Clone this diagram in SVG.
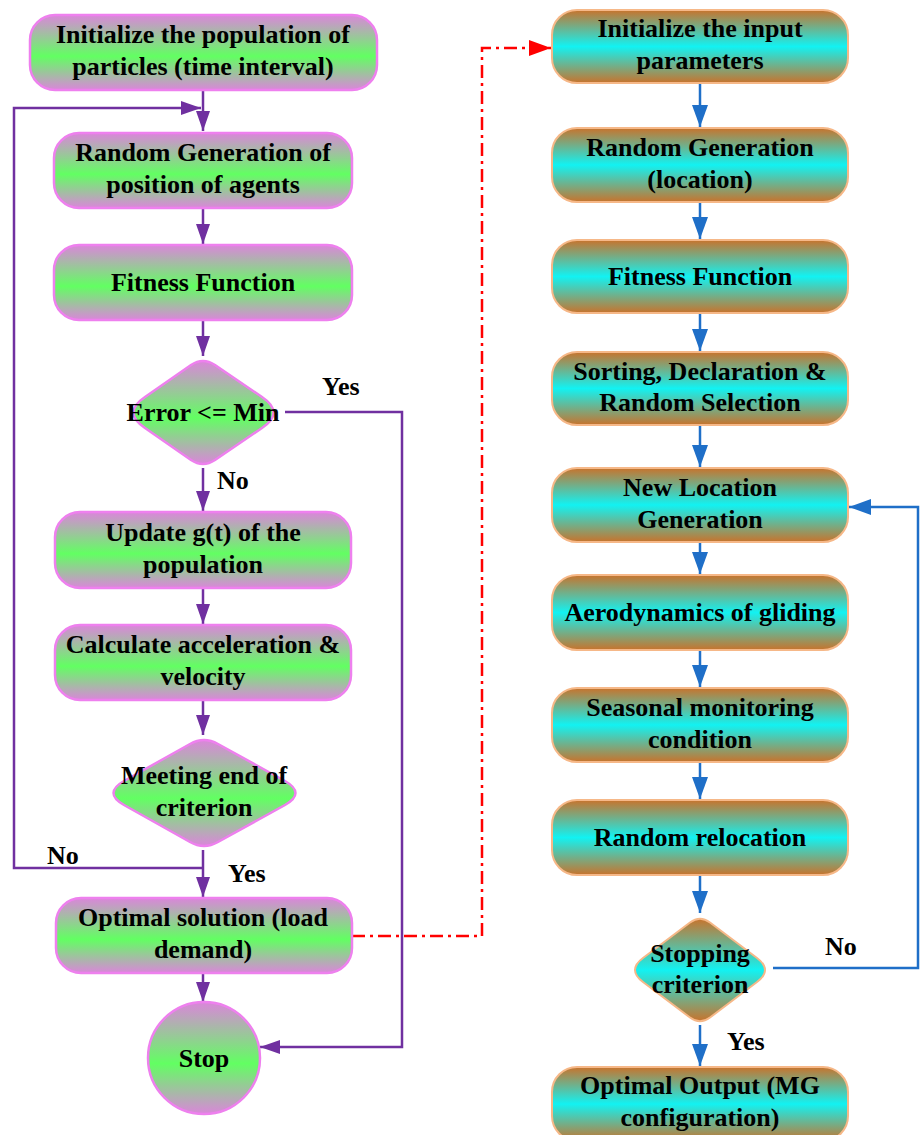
<svg xmlns="http://www.w3.org/2000/svg" width="920" height="1135" viewBox="0 0 920 1135">
<defs>
<linearGradient id="gL" x1="0" y1="0" x2="0" y2="1">
<stop offset="0" stop-color="#DA86DA"/>
<stop offset="0.55" stop-color="#62FF62"/>
<stop offset="1" stop-color="#DA86DA"/>
</linearGradient>
<linearGradient id="gR" x1="0" y1="0" x2="0" y2="1">
<stop offset="0" stop-color="#C8732C"/>
<stop offset="0.5" stop-color="#12F2F2"/>
<stop offset="1" stop-color="#C8732C"/>
</linearGradient>
<marker id="aP" markerUnits="userSpaceOnUse" markerWidth="20" markerHeight="14" refX="20" refY="7" orient="auto">
<path d="M0,0 L20,7 L0,14 Z" fill="#7030A0"/>
</marker>
<marker id="aB" markerUnits="userSpaceOnUse" markerWidth="22" markerHeight="16" refX="22" refY="8" orient="auto">
<path d="M0,0 L22,8 L0,16 Z" fill="#1F6FC8"/>
</marker>
<marker id="aR" markerUnits="userSpaceOnUse" markerWidth="22" markerHeight="16" refX="22" refY="8" orient="auto">
<path d="M0,0 L22,8 L0,16 Z" fill="#FF0000"/>
</marker>
</defs>
<style>
.l{fill:url(#gL);stroke:#EE80EE;stroke-width:2.5}
.r{fill:url(#gR);stroke:#F6B888;stroke-width:2}
text{font-family:"Liberation Serif","Times New Roman",serif;font-weight:bold;font-size:26px;fill:#000;text-anchor:middle}
.lab{text-anchor:start}
.cp{fill:none;stroke:#7030A0;stroke-width:2.5}
.cb{fill:none;stroke:#1F6FC8;stroke-width:2.5}
.cr{fill:none;stroke:#FF0000;stroke-width:2.5;stroke-dasharray:13 5 3 5}
</style>
<rect width="920" height="1135" fill="#fff"/>
<g id="connectors">
<path class="cp" d="M203,90 V131" marker-end="url(#aP)"/>
<path class="cp" d="M203,868 H14 V108 H201" marker-end="url(#aP)"/>
<path class="cp" d="M203,208 V244" marker-end="url(#aP)"/>
<path class="cp" d="M203,320 V356" marker-end="url(#aP)"/>
<path class="cp" d="M203,468 V511" marker-end="url(#aP)"/>
<path class="cp" d="M203,588 V624" marker-end="url(#aP)"/>
<path class="cp" d="M203,700 V735" marker-end="url(#aP)"/>
<path class="cp" d="M203,850 V897" marker-end="url(#aP)"/>
<path class="cp" d="M203,973 V1002" marker-end="url(#aP)"/>
<path class="cp" d="M285,412 H402 V1047 H260" marker-end="url(#aP)"/>
<path class="cr" d="M352,936 H482 V48 H551" marker-end="url(#aR)"/>
<path class="cb" d="M700,83 V127" marker-end="url(#aB)"/>
<path class="cb" d="M700,202 V239" marker-end="url(#aB)"/>
<path class="cb" d="M700,313 V351" marker-end="url(#aB)"/>
<path class="cb" d="M700,425 V467" marker-end="url(#aB)"/>
<path class="cb" d="M700,542 V574" marker-end="url(#aB)"/>
<path class="cb" d="M700,650 V687" marker-end="url(#aB)"/>
<path class="cb" d="M700,762 V799" marker-end="url(#aB)"/>
<path class="cb" d="M700,875 V913" marker-end="url(#aB)"/>
<path class="cb" d="M700,1025 V1066" marker-end="url(#aB)"/>
<path class="cb" d="M773,968 H918 V507 H849" marker-end="url(#aB)"/>
</g>
<g id="labels">
<text class="lab" x="322" y="395">Yes</text>
<text class="lab" x="217" y="489">No</text>
<text class="lab" x="47" y="864">No</text>
<text class="lab" x="228" y="882">Yes</text>
<text class="lab" x="825" y="955">No</text>
<text class="lab" x="727" y="1050">Yes</text>
</g>
<g id="n_init_pop">
<rect class="l" x="30" y="15" width="347" height="75" rx="25"/>
<text x="203" y="43">Initialize the population of</text>
<text x="203" y="75">particles (time interval)</text>
</g>
<g id="n_rand_gen">
<rect class="l" x="54" y="133" width="298" height="75" rx="25"/>
<text x="203" y="161">Random Generation of</text>
<text x="203" y="193">position of agents</text>
</g>
<g id="n_fitness_l">
<rect class="l" x="54" y="245" width="298" height="75" rx="25"/>
<text x="203" y="291">Fitness Function</text>
</g>
<g id="n_error">
<path class="l" d="M191,365 Q203,357 215,365 L262,397 Q285,412.5 262,428 L215,460 Q203,468 191,460 L145,428 Q122,412.5 145,397 Z"/>
<text x="203" y="421">Error &lt;= Min</text>
</g>
<g id="n_update">
<rect class="l" x="55" y="512" width="296" height="76" rx="25"/>
<text x="203" y="541">Update g(t) of the</text>
<text x="203" y="573">population</text>
</g>
<g id="n_calc">
<rect class="l" x="55" y="625" width="296" height="75" rx="25"/>
<text x="203" y="653">Calculate acceleration &amp;</text>
<text x="203" y="685">velocity</text>
</g>
<g id="n_meeting">
<path class="l" d="M190,744 Q204,736 218,744 L285,781 Q306,793 285,805 L218,842 Q204,850 190,842 L124,805 Q103,793 124,781 Z"/>
<text x="204" y="784">Meeting end of</text>
<text x="204" y="816">criterion</text>
</g>
<g id="n_optimal">
<rect class="l" x="56" y="898" width="296" height="75" rx="25"/>
<text x="203" y="926">Optimal solution (load</text>
<text x="203" y="958">demand)</text>
</g>
<g id="n_stop">
<circle class="l" cx="204" cy="1058" r="56"/>
<text x="204" y="1067">Stop</text>
</g>
<g id="n_init_input">
<rect class="r" x="552" y="10" width="296" height="73" rx="25"/>
<text x="700" y="37">Initialize the input</text>
<text x="700" y="69">parameters</text>
</g>
<g id="n_rand_loc">
<rect class="r" x="552" y="128" width="296" height="74" rx="25"/>
<text x="700" y="156">Random Generation</text>
<text x="700" y="188">(location)</text>
</g>
<g id="n_fitness_r">
<rect class="r" x="552" y="240" width="296" height="73" rx="25"/>
<text x="700" y="285">Fitness Function</text>
</g>
<g id="n_sorting">
<rect class="r" x="552" y="352" width="296" height="73" rx="25"/>
<text x="700" y="380">Sorting, Declaration &amp;</text>
<text x="700" y="411">Random Selection</text>
</g>
<g id="n_new_loc">
<rect class="r" x="552" y="468" width="296" height="74" rx="25"/>
<text x="700" y="496">New Location</text>
<text x="700" y="528">Generation</text>
</g>
<g id="n_aero">
<rect class="r" x="552" y="575" width="296" height="75" rx="25"/>
<text x="700" y="621">Aerodynamics of gliding</text>
</g>
<g id="n_seasonal">
<rect class="r" x="552" y="688" width="296" height="74" rx="25"/>
<text x="700" y="716">Seasonal monitoring</text>
<text x="700" y="748">condition</text>
</g>
<g id="n_relocation">
<rect class="r" x="552" y="800" width="296" height="75" rx="25"/>
<text x="700" y="846">Random relocation</text>
</g>
<g id="n_stopping">
<path class="r" d="M690,922.5 Q700,915 710,922.5 L757,958 Q773,970 757,982 L710,1017.5 Q700,1025 690,1017.5 L643,982 Q627,970 643,958 Z"/>
<text x="700" y="962">Stopping</text>
<text x="700" y="993">criterion</text>
</g>
<g id="n_output">
<rect class="r" x="552" y="1067" width="296" height="74" rx="25"/>
<text x="700" y="1094">Optimal Output (MG</text>
<text x="700" y="1126">configuration)</text>
</g>
</svg>
